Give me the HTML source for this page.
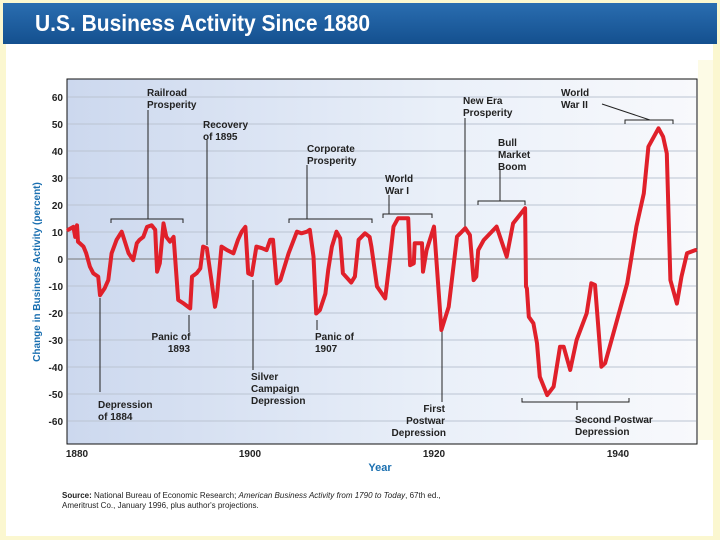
<!DOCTYPE html>
<html><head><meta charset="utf-8"><style>
body{margin:0;width:720px;height:540px;overflow:hidden;background:#fff;font-family:"Liberation Sans",sans-serif}
</style></head><body>
<svg width="720" height="540" viewBox="0 0 720 540" xmlns="http://www.w3.org/2000/svg">
<defs>
<linearGradient id="bg" x1="0" x2="1" y1="0" y2="0"><stop offset="0" stop-color="#ccd8ee"/><stop offset="0.6" stop-color="#eaf0f9"/><stop offset="1" stop-color="#f8f9fc"/></linearGradient>
<linearGradient id="hd" x1="0" x2="0" y1="0" y2="1"><stop offset="0" stop-color="#2a6db0"/><stop offset="1" stop-color="#14508f"/></linearGradient>
</defs>
<rect x="0" y="0" width="720" height="540" fill="#fbf7d0"/>
<rect x="6" y="44" width="707" height="492" fill="#fff"/>
<rect x="698" y="60" width="15" height="380" fill="#fdfbe6"/>
<rect x="3" y="3" width="714" height="41" fill="url(#hd)"/>
<text x="35" y="31" font-size="23" font-weight="bold" fill="#fff" textLength="335" lengthAdjust="spacingAndGlyphs">U.S. Business Activity Since 1880</text>
<rect x="67" y="79" width="630" height="365" fill="url(#bg)" stroke="#111" stroke-width="1"/>
<g id="grid"></g>
<g id="ylab" font-size="10" font-weight="bold" fill="#222"></g>
<g id="xlab" font-size="10" font-weight="bold" fill="#222"></g>
<text transform="translate(40,272) rotate(-90)" text-anchor="middle" font-size="10" font-weight="bold" fill="#1a6fb0">Change in Business Activity (percent)</text>
<text x="380" y="471" text-anchor="middle" font-size="11" font-weight="bold" fill="#1a6fb0">Year</text>
<g stroke="#222" stroke-width="1" fill="none">
<path d="M148 110V219M111 223V219H183V223"/>
<path d="M207 140V245"/>
<path d="M307 165V219M289 223V219H372V223"/>
<path d="M389 195V214M383 218V214H432V218"/>
<path d="M465 118V230"/>
<path d="M500 170V201M478 205V201H525V205"/>
<path d="M602 104L650 120M625 124V120H673V124"/>
<path d="M100 298V392"/>
<path d="M189 315V332"/>
<path d="M253 280V370"/>
<path d="M317 320V330"/>
<path d="M442 330V402"/>
<path d="M522 398V402H629V398M577 402V410"/>
</g>
<g font-size="10" font-weight="bold" fill="#222">
<text x="147" y="96"><tspan x="147">Railroad</tspan><tspan x="147" dy="12">Prosperity</tspan></text>
<text x="203" y="128"><tspan x="203">Recovery</tspan><tspan x="203" dy="12">of 1895</tspan></text>
<text x="307" y="152"><tspan x="307">Corporate</tspan><tspan x="307" dy="12">Prosperity</tspan></text>
<text x="385" y="182"><tspan x="385">World</tspan><tspan x="385" dy="12">War I</tspan></text>
<text x="463" y="104"><tspan x="463">New Era</tspan><tspan x="463" dy="12">Prosperity</tspan></text>
<text x="498" y="146"><tspan x="498">Bull</tspan><tspan x="498" dy="12">Market</tspan><tspan x="498" dy="12">Boom</tspan></text>
<text x="561" y="96"><tspan x="561">World</tspan><tspan x="561" dy="12">War II</tspan></text>
<text x="98" y="408"><tspan x="98">Depression</tspan><tspan x="98" dy="12">of 1884</tspan></text>
<text x="172" y="340" text-anchor="middle"><tspan x="171">Panic of</tspan><tspan x="179" dy="12">1893</tspan></text>
<text x="251" y="380"><tspan x="251">Silver</tspan><tspan x="251" dy="12">Campaign</tspan><tspan x="251" dy="12">Depression</tspan></text>
<text x="315" y="340"><tspan x="315">Panic of</tspan><tspan x="315" dy="12">1907</tspan></text>
<text x="445" y="412" text-anchor="end"><tspan x="445">First</tspan><tspan x="445" dy="12">Postwar</tspan><tspan x="446" dy="12">Depression</tspan></text>
<text x="575" y="423"><tspan x="575">Second Postwar</tspan><tspan x="575" dy="12">Depression</tspan></text>
</g>
<path id="series" fill="none" stroke="#e0202a" stroke-width="4" stroke-linejoin="round" stroke-linecap="round"/>
<text x="62" y="498" font-size="8" fill="#222"><tspan font-weight="bold">Source:</tspan> National Bureau of Economic Research; <tspan font-style="italic">American Business Activity from 1790 to Today</tspan>, 67th ed.,<tspan x="62" dy="10">Ameritrust Co., January 1996, plus author's projections.</tspan></text>
</svg>
<script>
const years=[1880.25,1880.8,1881.0,1881.2,1881.3,1881.5,1881.9,1882.2,1882.6,1882.97,1883.5,1883.7,1884.2,1884.6,1884.96,1885.5,1886.05,1886.4,1886.8,1887.3,1887.7,1888.0,1888.4,1888.8,1889.3,1889.7,1889.9,1890.2,1890.6,1890.9,1891.3,1891.7,1892.2,1892.8,1893.5,1893.7,1894.2,1894.6,1894.9,1895.3,1895.8,1896.2,1896.4,1896.9,1897.5,1898.2,1898.7,1899.1,1899.5,1899.8,1900.2,1900.7,1901.3,1901.8,1902.2,1902.5,1902.9,1903.3,1904.2,1905.1,1905.6,1906.2,1906.5,1906.9,1907.2,1907.6,1908.2,1908.5,1908.9,1909.4,1909.8,1910.1,1911.0,1911.4,1911.8,1912.5,1913.0,1913.2,1913.8,1914.7,1915.2,1915.6,1916.1,1917.2,1917.4,1917.8,1917.9,1918.7,1918.8,1919.2,1920.0,1920.8,1921.6,1922.5,1923.4,1923.9,1924.3,1924.6,1924.8,1925.4,1926.8,1927.9,1928.6,1929.9,1930.0,1930.1,1930.3,1930.8,1931.2,1931.5,1932.3,1933.0,1933.7,1934.1,1934.8,1935.5,1936.6,1937.1,1937.5,1938.2,1938.6,1939.5,1941.0,1942.0,1942.8,1943.3,1944.4,1944.9,1945.3,1945.7,1946.4,1946.9,1947.5,1948.4];
const values=[10.8,11.9,8.2,12.5,6.4,5.8,4.6,2.1,-2.8,-5.3,-6.5,-13.4,-10.9,-7.8,2.1,7.1,10.1,6.4,2.1,-0.4,5.8,7.1,8.2,11.9,12.5,10.8,-4.7,-1.6,13.2,8.2,6.4,8.2,-15.2,-16.5,-18.3,-6.5,-5.3,-3.5,4.6,4.0,-7.8,-17.7,-14.0,4.6,3.3,2.1,7.1,10.1,11.9,-5.3,-5.9,4.6,4.0,3.3,7.1,7.1,-9.0,-7.8,2.1,10.1,9.5,10.1,10.8,0.9,-20.2,-18.9,-12.8,-4.1,4.6,10.1,7.7,-5.3,-8.7,-6.5,7.1,9.5,8.2,4.6,-10.2,-14.6,-0.4,12.0,15.1,15.1,-2.3,-1.6,5.8,5.8,-4.7,3.3,12.0,-26.3,-17.7,8.3,11.4,8.9,-7.8,-6.5,3.3,7.0,12.0,0.9,13.2,18.8,-10.2,-10.9,-21.4,-23.8,-31.2,-43.6,-50.4,-47.3,-32.5,-32.5,-41.1,-30.0,-20.1,-9.0,-9.6,-39.9,-38.6,-27.5,-9.0,12.0,24.3,41.6,48.4,45.3,39.1,-7.8,-16.5,-6.5,2.1,3.3];
const yTicks=[60,50,40,30,20,10,0,-10,-20,-30,-40,-50,-60];
const xTicks=[1880,1900,1920,1940];
const NS='http://www.w3.org/2000/svg';
function xs(yr){return 66+(yr-1880)*9.2;}
function ys(v){return 259-v*2.7;}
const grid=document.getElementById('grid'),ylab=document.getElementById('ylab'),xlab=document.getElementById('xlab');
yTicks.forEach(t=>{
  const l=document.createElementNS(NS,'line');
  l.setAttribute('x1',68);l.setAttribute('x2',696);l.setAttribute('y1',ys(t));l.setAttribute('y2',ys(t));
  l.setAttribute('stroke',t===0?'#777':'#bbc4d2');l.setAttribute('stroke-width',1);
  
  
  grid.appendChild(l);
  const tx=document.createElementNS(NS,'text');
  tx.setAttribute('x',63);tx.setAttribute('y',ys(t)+4);tx.setAttribute('text-anchor','end');
  tx.textContent=t;
  
  
  ylab.appendChild(tx);
});
xTicks.forEach((t,i)=>{
  const tx=document.createElementNS(NS,'text');
  tx.setAttribute('x',i===0?77:xs(t));tx.setAttribute('y',457);tx.setAttribute('text-anchor','middle');
  tx.textContent=t;
  
  
  xlab.appendChild(tx);
});
document.getElementById('series').setAttribute('d',years.map((y,i)=>(i?'L':'M')+xs(y).toFixed(1)+' '+ys(values[i]).toFixed(1)).join(''));
</script>
</body></html>
